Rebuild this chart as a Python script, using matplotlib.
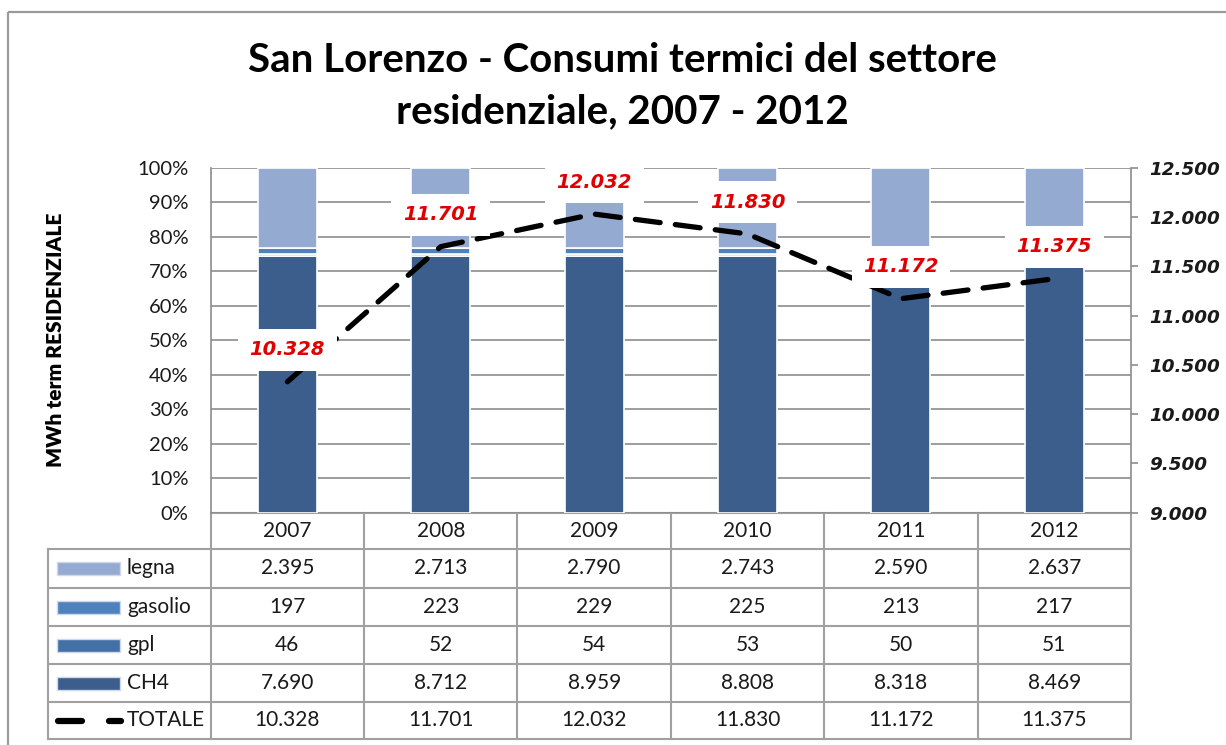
import matplotlib.pyplot as plt
from matplotlib.patches import Rectangle
import numpy as np

plt.rcParams['lines.scale_dashes'] = False

years = ['2007', '2008', '2009', '2010', '2011', '2012']
ch4 = [7690, 8712, 8959, 8808, 8318, 8469]
gpl = [46, 52, 54, 53, 50, 51]
gasolio = [197, 223, 229, 225, 213, 217]
legna = [2395, 2713, 2790, 2743, 2590, 2637]
totale = [10328, 11701, 12032, 11830, 11172, 11375]

right_ticks = [9000, 9500, 10000, 10500, 11000, 11500, 12000, 12500]

colors = {'CH4': '#3B5E8C', 'gpl': '#4470A8', 'gasolio': '#4F81BD', 'legna': '#95AAD1'}
grid_col = '#8C8C8C'
table_col = '#A0A0A0'
label_font = 'Lato'
text_col = '#1a1a1a'


def fmt(v):
    return f"{v:,}".replace(',', '.')


# layout in pixels
W, H = 1226, 745
L, R, T, B = 210.7, 1131, 168, 512.5
colw = (R - L) / 6

fig = plt.figure(figsize=(W / 100, H / 100), dpi=100)

# overlay in pixel coordinates for frame and table
tab = fig.add_axes([0, 0, 1, 1], zorder=0)
tab.set_xlim(0, W)
tab.set_ylim(H, 0)
tab.axis('off')
tab.add_patch(Rectangle((8, 12), W + 20, H + 20, fill=False,
                        edgecolor='#9A9A9A', lw=1.6, clip_on=False))

ax = fig.add_axes([L / W, 1 - B / H, (R - L) / W, (B - T) / H], zorder=1)
ax.set_facecolor('none')

x = np.arange(len(years))
stack = [('CH4', ch4), ('gpl', gpl), ('gasolio', gasolio), ('legna', legna)]
sums = np.sum([v for _, v in stack], axis=0)
bottom = np.zeros(len(years))
for name, vals in stack:
    share = np.array(vals) / sums * 100
    ax.bar(x, share, 0.385, bottom=bottom, color=colors[name],
           edgecolor='white', linewidth=1.2, zorder=3)
    bottom += share

ax.set_xlim(-0.5, len(years) - 0.5)
ax.set_ylim(0, 100)
ax.set_yticks(np.arange(0, 101, 10))
ax.set_yticklabels([f"{v}%" for v in range(0, 101, 10)],
                   fontsize=14.5, family=label_font, color=text_col)
ax.tick_params(axis='y', length=0, pad=16)
ax.set_xticks([])
ax.yaxis.grid(True, color=grid_col, lw=1.2, zorder=0)
ax.set_axisbelow(True)
for s in ['top', 'right', 'bottom']:
    ax.spines[s].set_visible(False)
ax.spines['left'].set_color(grid_col)
ax.spines['left'].set_linewidth(1.2)

ax2 = ax.twinx()
ax2.set_zorder(2)
ax2.set_ylim(9000, 12500)
ax2.set_yticks(right_ticks)
ax2.set_yticklabels([fmt(v) for v in right_ticks], fontsize=13.2,
                    fontweight='bold', fontstyle='italic', color=text_col)
ax2.tick_params(axis='y', length=5, width=1.2, color=grid_col, pad=8)
for s in ['top', 'left', 'bottom']:
    ax2.spines[s].set_visible(False)
ax2.spines['right'].set_color(grid_col)
ax2.spines['right'].set_linewidth(1.2)

ax2.plot(x, totale, color='black', lw=3.8, dashes=(18, 11),
         dash_capstyle='round', zorder=4)
for xi, v in zip(x, totale):
    ax2.annotate(fmt(v), (xi, v), xytext=(0, 23), textcoords='offset points',
                 ha='center', va='center', fontsize=14, fontweight='bold',
                 fontstyle='italic', color='#E00000', zorder=6,
                 bbox=dict(boxstyle='square,pad=0.6', fc='white', ec='none'))

# title and axis title
fig.text(622 / W, 1 - 86 / H, 'San Lorenzo - Consumi termici del settore\nresidenziale, 2007 - 2012',
         ha='center', va='center', fontsize=29, fontweight='bold',
         family=label_font, linespacing=1.45, color='black')
fig.text(56 / W, 1 - 340 / H, 'MWh term RESIDENZIALE', rotation=90,
         ha='center', va='center', fontsize=15, fontweight='heavy',
         family=label_font, color='black')

# data table
row_edges = [549, 588, 626, 664, 702, 739]
tab_left = 48
lw_t = 1.5
tab.plot([L, R], [B, B], color=table_col, lw=lw_t)
for y in row_edges:
    tab.plot([tab_left, R], [y, y], color=table_col, lw=lw_t)
tab.plot([tab_left, tab_left], [row_edges[0], row_edges[-1]], color=table_col, lw=lw_t)
for i in range(len(years) + 1):
    xe = L + i * colw
    tab.plot([xe, xe], [B, row_edges[-1]], color=table_col, lw=lw_t)

for i, yr in enumerate(years):
    tab.text(L + (i + 0.5) * colw, (B + row_edges[0]) / 2, yr, ha='center',
             va='center', fontsize=15, family=label_font, color=text_col)

rows = [('legna', legna), ('gasolio', gasolio), ('gpl', gpl), ('CH4', ch4), ('TOTALE', totale)]
for r, (name, vals) in enumerate(rows):
    yc = (row_edges[r] + row_edges[r + 1]) / 2
    if name in colors:
        tab.add_patch(Rectangle((57, yc - 6.5), 63, 13, facecolor=colors[name],
                                edgecolor='#D0D8E8', lw=1.0))
    else:
        tab.plot([58, 82], [yc, yc], color='black', lw=4.5, solid_capstyle='round')
        tab.plot([109, 121], [yc, yc], color='black', lw=4.5, solid_capstyle='round')
    tab.text(127, yc, name, ha='left', va='center', fontsize=15,
             family=label_font, color=text_col)
    for i, v in enumerate(vals):
        tab.text(L + (i + 0.5) * colw, yc, fmt(v), ha='center', va='center',
                 fontsize=15, family=label_font, color=text_col)

fig.savefig('out.png', dpi=100)
